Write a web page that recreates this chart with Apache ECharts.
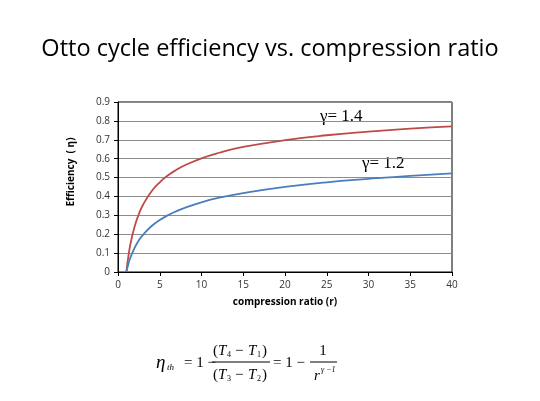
<!DOCTYPE html>
<html>
<head>
<meta charset="utf-8">
<script src="https://cdn.jsdelivr.net/npm/echarts@6/dist/echarts.min.js"></script>
<style>html,body{margin:0;padding:0;background:#fff}#c{width:540px;height:401px}</style>
</head>
<body>
<div id="c"></div>
<script>
var ratios = [1, 1.25, 1.5, 2, 2.5, 3, 4, 5, 6, 7, 8, 10, 12, 15, 20, 25, 30, 35, 40];
var eff14 = [0, 0.085, 0.150, 0.242, 0.307, 0.356, 0.426, 0.475, 0.512, 0.541, 0.565, 0.602, 0.630, 0.662, 0.698, 0.724, 0.743, 0.759, 0.771];
var eff12 = [0, 0.044, 0.078, 0.129, 0.168, 0.197, 0.242, 0.275, 0.301, 0.322, 0.340, 0.369, 0.392, 0.418, 0.451, 0.475, 0.493, 0.509, 0.522];
var xTicks = [0, 5, 10, 15, 20, 25, 30, 35, 40];
var yTicks = [0, 0.1, 0.2, 0.3, 0.4, 0.5, 0.6, 0.7, 0.8, 0.9];

function pairs(xs, ys){ return xs.map(function(x,i){return [x, ys[i]];}); }
function txt(x, y, s, size, italic, align){
  return {type:'text', x:x, y:y, style:{text:s, fontSize:size, fontFamily:'Liberation Serif', fontStyle: italic?'italic':'normal', fill:'#000', align: align||'left', verticalAlign:'middle'}};
}
var chart = echarts.init(document.getElementById('c'));
chart.setOption({
  animation:false,
  title:{text:'Otto cycle efficiency vs. compression ratio', left:'center', top:32, textStyle:{fontFamily:'Open Sans', fontWeight:'normal', fontSize:23.5, color:'#000'}},
  grid:{left:118, right:88, top:102, bottom:129, show:true, borderColor:'#000', borderWidth:1},
  xAxis:{type:'value', min:0, max:40, interval:5, name:'compression ratio (r)', nameLocation:'middle', nameGap:25,
    nameTextStyle:{fontFamily:'Open Sans', fontWeight:'bold', fontSize:10, color:'#000'},
    axisLine:{lineStyle:{color:'#000'}}, axisTick:{show:true, length:4, lineStyle:{color:'#000'}},
    axisLabel:{fontFamily:'Open Sans', fontSize:10, color:'#333', margin:8, formatter:function(v){return xTicks.indexOf(v)>=0?String(v):'';}},
    splitLine:{show:false}},
  yAxis:{type:'value', min:0, max:0.9, interval:0.1, name:'Efficiency  ( η)', nameLocation:'middle', nameGap:42, nameRotate:90,
    nameTextStyle:{fontFamily:'Open Sans', fontWeight:'bold', fontSize:10, color:'#000', padding:[0,0,0,30]},
    axisLine:{show:true, lineStyle:{color:'#000'}}, axisTick:{show:true, length:4, lineStyle:{color:'#000'}},
    axisLabel:{fontFamily:'Open Sans', fontSize:10, color:'#333', margin:8, formatter:function(v){var r=Math.round(v*10)/10; return yTicks.indexOf(r)>=0?String(r):'';}},
    splitLine:{show:true, lineStyle:{color:'#8c8c8c', width:1}}},
  series:[
    {name:'γ= 1.4', type:'line', data:pairs(ratios, eff14), smooth:true, showSymbol:false, lineStyle:{color:'#BE4B48', width:1.8}, itemStyle:{color:'#BE4B48'}},
    {name:'γ= 1.2', type:'line', data:pairs(ratios, eff12), smooth:true, showSymbol:false, lineStyle:{color:'#4A7EBB', width:1.8}, itemStyle:{color:'#4A7EBB'}}
  ],
  graphic:[
    txt(320, 117, 'γ= 1.4', 17, false),
    txt(362, 164, 'γ= 1.2', 17, false),
    txt(156, 363, 'η', 19, true),
    txt(167, 368, 'th', 9, true),
    txt(184, 363, '= 1 −', 15, false),
    txt(213, 351, '(', 15, false),
    txt(218, 351, 'T', 15, true),
    txt(227, 355, '4', 8, false),
    txt(235, 351, '−', 15, false),
    txt(248, 351, 'T', 15, true),
    txt(257, 355, '1', 8, false),
    txt(262, 351, ')', 15, false),
    {type:'line', shape:{x1:212, y1:362, x2:270, y2:362}, style:{stroke:'#000', lineWidth:1}},
    txt(213, 375, '(', 15, false),
    txt(218, 375, 'T', 15, true),
    txt(227, 379, '3', 8, false),
    txt(235, 375, '−', 15, false),
    txt(248, 375, 'T', 15, true),
    txt(257, 379, '2', 8, false),
    txt(262, 375, ')', 15, false),
    txt(273, 363, '= 1 −', 15, false),
    txt(323, 351, '1', 15, false, 'center'),
    {type:'line', shape:{x1:310, y1:362, x2:337, y2:362}, style:{stroke:'#000', lineWidth:1}},
    txt(314, 376, 'r', 15, true),
    txt(321, 370, 'γ −1', 8, true)
  ]
});
</script>
</body>
</html>
